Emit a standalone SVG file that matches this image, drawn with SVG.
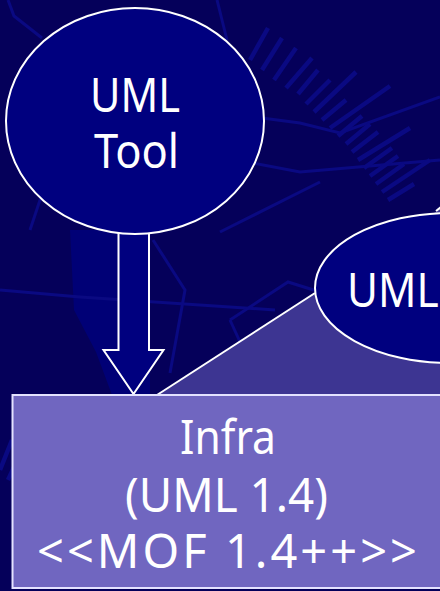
<svg xmlns="http://www.w3.org/2000/svg" width="440" height="591" viewBox="0 0 440 591">
  <defs>
    <style>
      .bgline { fill: none; stroke: #0a0982; stroke-width: 3; stroke-linecap: butt; stroke-linejoin: miter; }
      .hatch { fill: none; stroke: #0a0982; stroke-width: 4.5; }
      .node { fill: #00007f; stroke: #ffffff; stroke-width: 2; }
      .lbl { font-family: "Noto Sans", "DejaVu Sans", "Liberation Sans", sans-serif; font-size: 47px; fill: #ffffff; }
    </style>
  </defs>

  <!-- backdrop -->
  <rect x="0" y="0" width="440" height="591" fill="#05005a"/>

  <!-- faint template decoration -->
  <g id="backdrop-pattern">
    <path d="M70,230 L74,310 L96,352 L112,395 L150,395 L150,230 Z" fill="#000076"/>
    <path class="bgline" d="M8,0 L14,16 L42,38"/>
    <path class="bgline" d="M217,0 L227,40"/>
    <path class="bgline" d="M0,290 L80,297 L275,310"/>
    <path class="bgline" d="M153,240 L185,290 L170,373"/>
    <path class="bgline" d="M230,320 L288,282 L320,292"/>
    <path class="bgline" d="M230,320 L262,390"/>
    <path class="bgline" d="M262,118 L300,123 L340,133 L440,97"/>
    <path class="bgline" d="M253,163 L300,172 L440,160"/>
    <path class="bgline" d="M220,232 L320,182"/>
    <path class="bgline" d="M75,160 L40,200 L30,230"/>
    <path class="hatch" d="M250,60 L268,28 M262,70 L282,38 M274,80 L296,48 M286,88 L312,58 M298,94 L318,70 M306,104 L330,80 M314,112 L356,72 M322,120 L346,100 M330,128 L390,86 M338,136 L362,116 M346,144 L370,124 M352,152 L378,132 M358,160 L410,128 M364,168 L392,148 M370,176 L398,156 M376,184 L404,164 M382,192 L430,160 M388,200 L414,184"/>
    <path class="hatch" d="M0,470 L12,440 M8,480 L22,450 M16,490 L28,462"/>
  </g>

  <!-- projection shading from UML2 down to the Infra box -->
  <g id="projection">
    <polygon points="157,395 315,293 437,211 480,180 480,395" fill="#3d3592"/>
    <polyline points="157,395 315,293" fill="none" stroke="#ffffff" stroke-width="2"/>
    <polyline points="436,211 450,200" fill="none" stroke="#ffffff" stroke-width="2"/>
  </g>

  <!-- connectors -->
  <g id="connectors">
    <polygon class="node" points="118.5,232 118.5,350 103.5,350 133.5,394 163.5,350 149,350 149,232"/>
  </g>

  <g id="uml-tool">
    <ellipse class="node" cx="135" cy="121" rx="129" ry="113"/>
    <text class="lbl" x="135" y="112" text-anchor="middle" textLength="90" lengthAdjust="spacingAndGlyphs">UML</text>
    <text class="lbl" x="136.5" y="168" text-anchor="middle" textLength="85" lengthAdjust="spacingAndGlyphs">Tool</text>
  </g>

  <g id="uml2">
    <ellipse class="node" cx="450" cy="288" rx="135" ry="75"/>
    <text class="lbl" x="347" y="307" textLength="116" lengthAdjust="spacingAndGlyphs">UML2</text>
  </g>

  <g id="infra">
    <rect x="12.5" y="395" width="440" height="193" fill="#7066c0" stroke="#e4e2ff" stroke-width="2"/>
    <text class="lbl" x="228" y="454" text-anchor="middle" textLength="96" lengthAdjust="spacingAndGlyphs">Infra</text>
    <text class="lbl" x="226.5" y="512" text-anchor="middle" textLength="203" lengthAdjust="spacingAndGlyphs">(UML 1.4)</text>
    <text class="lbl" x="227" y="568" text-anchor="middle" textLength="380" lengthAdjust="spacing">&lt;&lt;MOF 1.4++&gt;&gt;</text>
  </g>
</svg>
